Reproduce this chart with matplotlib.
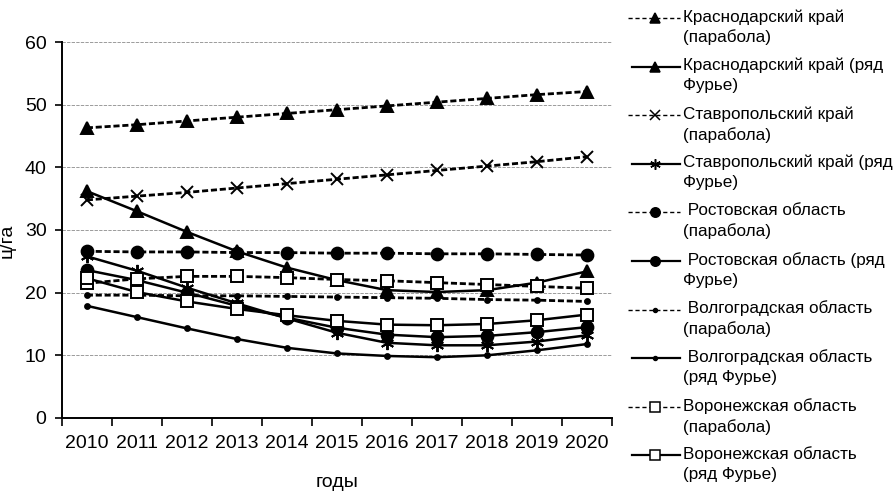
import numpy as np
import matplotlib.pyplot as plt

years = [str(y) for y in range(2010, 2021)]

# урожайность, ц/га
krd_par = [46.3, 46.8, 47.4, 48.0, 48.6, 49.2, 49.8, 50.4, 51.0, 51.6, 52.1]
krd_fur = [36.2, 33.0, 29.7, 26.6, 24.0, 22.0, 20.4, 20.1, 20.4, 21.6, 23.4]
stv_par = [34.8, 35.4, 36.0, 36.7, 37.4, 38.1, 38.8, 39.5, 40.2, 40.9, 41.7]
stv_fur = [25.8, 23.5, 20.8, 18.3, 15.9, 13.6, 12.0, 11.6, 11.6, 12.2, 13.2]
rst_par = [26.6, 26.5, 26.5, 26.4, 26.4, 26.3, 26.3, 26.2, 26.2, 26.1, 26.0]
rst_fur = [23.6, 22.0, 20.0, 17.9, 16.0, 14.4, 13.3, 12.9, 13.1, 13.7, 14.5]
vlg_par = [19.6, 19.6, 19.5, 19.5, 19.4, 19.3, 19.2, 19.1, 18.9, 18.8, 18.6]
vlg_fur = [17.9, 16.1, 14.3, 12.6, 11.2, 10.3, 9.9, 9.7, 10.0, 10.8, 11.8]
vrn_par = [21.5, 22.2, 22.6, 22.6, 22.4, 22.1, 21.9, 21.6, 21.3, 21.0, 20.7]
vrn_fur = [22.3, 20.1, 18.6, 17.4, 16.4, 15.5, 14.9, 14.8, 15.0, 15.6, 16.5]

plt.rcParams['font.family'] = ['Liberation Sans', 'DejaVu Sans']

dash = (0, (2.2, 1.0))
ast = (6, 2, 0)
series = [
    (krd_par, dash, '^', 'k', 8.5, 'Краснодарский край\n(парабола)'),
    (krd_fur, '-', '^', 'k', 8.5, 'Краснодарский край (ряд\nФурье)'),
    (stv_par, dash, 'x', 'k', 8.5, 'Ставропольский край\n(парабола)'),
    (stv_fur, '-', ast, 'k', 9.5, 'Ставропольский край (ряд\nФурье)'),
    (rst_par, dash, 'o', 'k', 8.5, ' Ростовская область\n(парабола)'),
    (rst_fur, '-', 'o', 'k', 8.5, ' Ростовская область (ряд\nФурье)'),
    (vlg_par, dash, 'o', 'k', 3.5, ' Волгоградская область\n(парабола)'),
    (vlg_fur, '-', 'o', 'k', 3.5, ' Волгоградская область\n(ряд Фурье)'),
    (vrn_par, dash, 's', 'white', 8.5, 'Воронежская область\n(парабола)'),
    (vrn_fur, '-', 's', 'white', 8.5, 'Воронежская область\n(ряд Фурье)'),
]

fig = plt.figure(figsize=(8.96, 5.03), dpi=100)
ax = fig.add_axes([0.069, 0.169, 0.614, 0.7475])
x = np.arange(len(years))

for vals, ls, mk, fc, ms, lab in series:
    lw = 2.0 if ls is dash else 1.8
    ax.plot(x, vals, linestyle=ls, color='k', lw=lw, marker=mk, ms=ms,
            mfc=fc, mec='k', mew=1.4, zorder=3)

ax.set_xlim(-0.5, 10.5)
ax.set_ylim(0, 60)
ax.set_yticks(range(0, 61, 10))
ax.yaxis.grid(True, color='0.55', lw=0.6, linestyle=(0, (4, 1.5)))
ax.set_axisbelow(True)
ax.set_xticks(np.arange(-0.5, 11, 1))
ax.set_xticklabels([])
ax.set_xticks(x, minor=True)
ax.set_xticklabels(years, minor=True)
ax.tick_params(axis='x', which='minor', length=0, pad=12, labelsize=14)
ax.tick_params(axis='x', which='major', length=6, width=1.2, direction='out')
ax.tick_params(axis='y', length=5, width=1.2, labelsize=14, pad=6)
for s in ['top', 'right']:
    ax.spines[s].set_visible(False)
for s in ['left', 'bottom']:
    ax.spines[s].set_linewidth(1.4)
ax.set_xlabel('годы', fontsize=14, labelpad=16)
ax.set_ylabel('ц/га', fontsize=14)
ax.yaxis.set_label_coords(-0.084, 0.47)

# легенда справа
lg = fig.add_axes([0, 0, 1, 1], facecolor='none')
lg.set_xlim(0, 896)
lg.set_ylim(503, 0)
lg.axis('off')
for i, (vals, ls, mk, fc, ms, lab) in enumerate(series):
    yy = 18 + i * 48.6
    if ls is dash:
        lg.plot([628, 680], [yy, yy], linestyle=(0, (3, 2)), color='k', lw=1.0)
    else:
        lg.plot([632, 680], [yy, yy], '-', color='k', lw=1.6)
    lg.plot([655], [yy], marker=mk, ms=ms * 0.8, mfc=fc, mec='k', mew=1.1, color='k')
    lg.text(683, yy - 9, lab, fontsize=12.3, va='top', ha='left', linespacing=1.4)

fig.savefig('out.png', dpi=100)
